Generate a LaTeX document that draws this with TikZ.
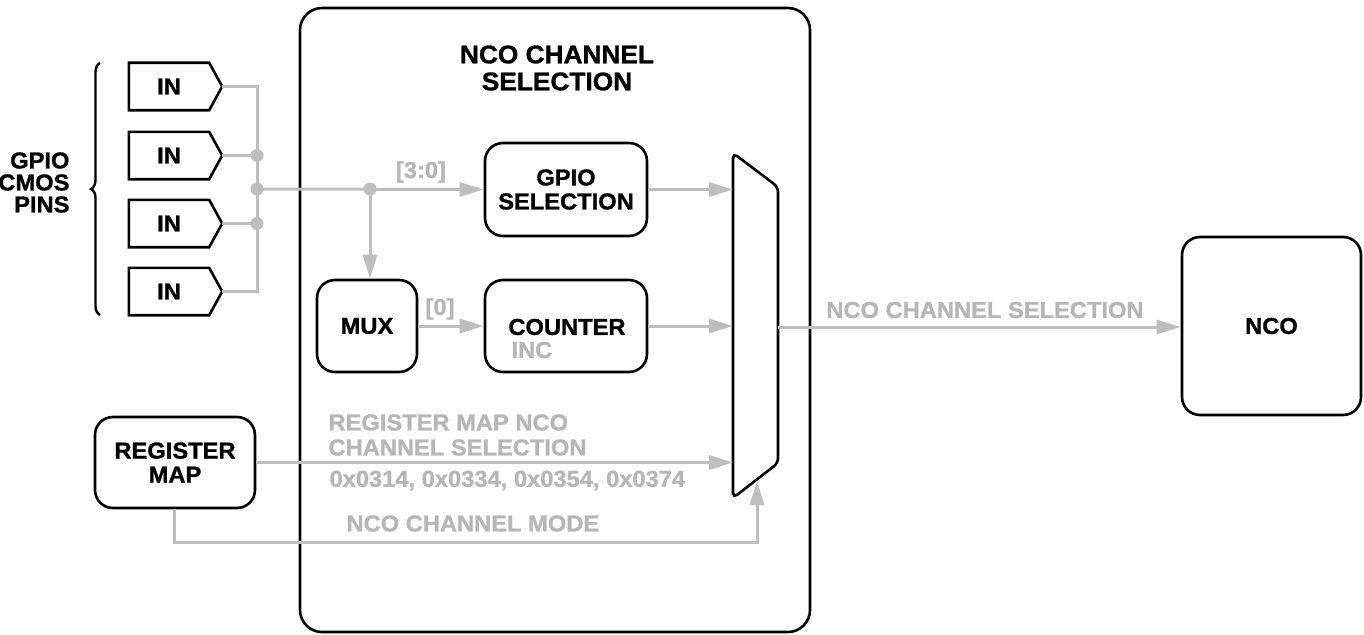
\documentclass[tikz,border=0pt]{standalone}
\usepackage{fontspec}
\setmainfont{Liberation Sans}[FakeStretch=1.03,BoldFeatures={FakeBold=1.2}]
\usetikzlibrary{arrows.meta,decorations.pathreplacing,calc}
\definecolor{lg}{RGB}{190,190,190}
\definecolor{lgt}{RGB}{182,182,182}
\tikzset{
  box/.style={draw=black,line width=2.6pt,rounded corners=18pt,align=center,inner sep=0pt},
  btxt/.style={font=\fontsize{23}{24}\selectfont\bfseries,align=center},
  gtxt/.style={font=\fontsize{23}{25}\selectfont\bfseries,text=lgt,align=left},
  wire/.style={draw=lg,line width=3pt},
  arr/.style={wire,-{Triangle[length=24pt,width=14pt]}},
  dot/.style={circle,fill=lg,inner sep=0pt,minimum size=13pt},
  inbox/.style={inner sep=0pt,minimum width=80pt,minimum height=47pt,font=\fontsize{23}{24}\selectfont\bfseries},
}
\newcommand\inshape[1]{%
  \draw[line width=2.6pt,line join=miter] (#1.north west) -- (#1.north east) -- ([xshift=13pt]#1.east) -- (#1.south east) -- (#1.south west) -- cycle;
  \coordinate (#1tip) at ([xshift=13pt]#1.east);}
\begin{document}
\begin{tikzpicture}[x=1pt,y=-1pt]
\useasboundingbox (0,0) rectangle (1364,634);
% big enclosing box
\node[draw,line width=2.6pt,rounded corners=22pt,minimum width=510pt,minimum height=624pt,inner sep=0pt] (chip) at (555,320) {};
\node[font=\fontsize{25.5}{27}\selectfont\bfseries,align=center] (title) at (557,68) {NCO CHANNEL\\SELECTION};

% IN boxes
\node[inbox] (in1) at (169,86.5) {IN};
\node[inbox] (in2) at (169,155.5) {IN};
\node[inbox] (in3) at (169,223.5) {IN};
\node[inbox] (in4) at (169,291.5) {IN};
\inshape{in1}\inshape{in2}\inshape{in3}\inshape{in4}

% brace and label
\coordinate (bb) at (100,315);
\coordinate (bt) at (100,63);
\draw[line width=2.4pt,decorate,decoration={brace,amplitude=9pt}] (bb) -- (bt);
\node[btxt,align=right,anchor=east,font=\fontsize{23}{22}\selectfont\bfseries] (gpl) at (73,182.5) {GPIO\\CMOS\\PINS};

% bus
\coordinate (b1) at (257,86.5);
\coordinate (b4) at (257,291.5);
\node[dot] (j1) at (257,155.5) {};
\node[dot] (j2) at (257,189) {};
\node[dot] (j3) at (257,223.5) {};
\draw[wire] (in1tip) -- (b1) -- (b4) -- (in4tip);
\draw[wire] (in2tip) -- (j1.center);
\draw[wire] (in3tip) -- (j3.center);

% inner blocks
\node[box,btxt,minimum width=162pt,minimum height=93pt] (gsel) at (566,189.5) {GPIO\\SELECTION};
\node[box,minimum width=100pt,minimum height=92pt] (mux) at (367,326) {};
\node[btxt] (muxt) at (367,326) {MUX};
\node[box,minimum width=162pt,minimum height=92pt] (cnt) at (566,326) {};
\node[btxt] (cntt) at (567,327) {COUNTER};
\node[gtxt,anchor=west,font=\fontsize{23}{24}\selectfont\bfseries] (inc) at (508,350) {INC};

\node[dot] (j4) at (370,189) {};
\draw[arr] (j2.center) -- (gsel.west);
\node[gtxt] (l30) at (421,172) {[3:0]};
\draw[arr] (j4.center) -- (j4 |- mux.north);
\draw[arr] (mux.east) -- (cnt.west);
\node[gtxt] (l0) at (440,309) {[0]};

% multiplexer
\coordinate (mTL) at (733,153);
\coordinate (mTR) at (778,187);
\coordinate (mBR) at (778,463);
\coordinate (mBL) at (733,498);
\draw[line width=2.6pt,rounded corners=5pt] (mTL) -- (mTR) -- (mBR) -- (mBL) -- cycle;
\coordinate (mout) at (778,327);
\coordinate (mbot) at (757,481);

\draw[arr] (gsel.east) -- (gsel.east -| mTL);
\draw[arr] (cnt.east) -- (cnt.east -| mTL);

% NCO
\node[box,btxt,minimum width=179pt,minimum height=178pt] (nco) at (1271.5,326) {NCO};
\draw[arr] (mout) -- (nco.west |- mout);
\node[gtxt] (lsel) at (985,310) {NCO CHANNEL SELECTION};

% register map
\node[box,btxt,minimum width=160pt,minimum height=91pt] (reg) at (175,462.5) {REGISTER\\MAP};
\draw[arr] (reg.east) -- (reg.east -| mTL);
\coordinate (rb) at (174,542);
\draw[arr] (reg.south -| rb) -- (rb) -- (rb -| mbot) -- (mbot);
\node[gtxt,anchor=west] (lrm) at (325,435) {REGISTER MAP NCO\\CHANNEL SELECTION};
\node[gtxt,anchor=west] (laddr) at (326,480.5) {0x0314, 0x0334, 0x0354, 0x0374};
\node[gtxt,anchor=west] (lmode) at (343,523.5) {NCO CHANNEL MODE};
\end{tikzpicture}
\end{document}
